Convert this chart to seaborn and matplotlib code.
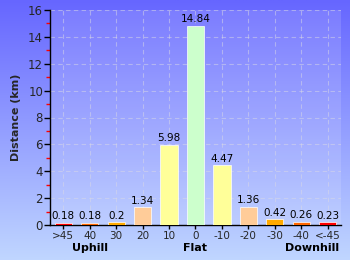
import numpy as np
import pandas as pd
import matplotlib
matplotlib.use("Agg")
import matplotlib.pyplot as plt
import seaborn as sns
from matplotlib.ticker import MultipleLocator

categories = [">45", "40", "30", "20", "10", "0", "-10", "-20", "-30", "-40", "<-45"]
distances = [0.18, 0.18, 0.2, 1.34, 5.98, 14.84, 4.47, 1.36, 0.42, 0.26, 0.23]
value_labels = ["0.18", "0.18", "0.2", "1.34", "5.98", "14.84", "4.47", "1.36", "0.42", "0.26", "0.23"]
bar_colors = ["#ff0000", "#ff6600", "#ffaa00", "#ffcc99", "#ffff99", "#ccffcc",
              "#ffff99", "#ffcc99", "#ffaa00", "#ff6600", "#ff0000"]
group_labels = ["Uphill", "Flat", "Downhill"]

sns.set_style("white")
plt.rcParams['font.family'] = ['DejaVu Sans']

fig = plt.figure(figsize=(3.5, 2.6), dpi=100)

# background gradient
bg = fig.add_axes([0, 0, 1, 1], zorder=-10)
top = np.array([102, 102, 255]) / 255
bot = np.array([192, 214, 255]) / 255
t = np.linspace(0, 1, 256)[:, None]
grad = (top * (1 - t) + bot * t)[:, None, :]
bg.imshow(grad, aspect='auto', extent=[0, 1, 0, 1])
bg.axis('off')

ax = fig.add_axes([50/350, 35/260, 291/350, 215/260])
ax.set_facecolor((1, 1, 1, 0.13))

df = pd.DataFrame({"cat": categories, "dist": distances})
sns.barplot(data=df, x="cat", y="dist", hue="cat", order=categories, hue_order=categories,
            palette=bar_colors, legend=False, width=0.65, edgecolor="white",
            linewidth=0.5, saturation=1, ax=ax, zorder=3)

ax.set_ylim(0, 16)
ax.set_xlim(-0.5, len(categories) - 0.5)
ax.yaxis.set_major_locator(MultipleLocator(2))
ax.yaxis.set_minor_locator(MultipleLocator(1))
ax.grid(True, which='major', color=(0.85, 0.85, 0.9), linestyle=(0, (4, 3)), linewidth=0.8, alpha=0.5, zorder=0)
ax.set_axisbelow(True)

for s in ['top', 'right']:
    ax.spines[s].set_visible(False)
for s in ['left', 'bottom']:
    ax.spines[s].set_color('black')
    ax.spines[s].set_linewidth(1.0)

ax.tick_params(axis='y', which='major', length=4, width=1, color='black', labelsize=8.5, pad=1, left=True, direction='out')
ax.tick_params(axis='y', which='minor', length=3, width=1, color='red', left=True, direction='out')
ax.tick_params(axis='x', which='major', length=3, width=1, color='black', labelsize=7.5, pad=1.5, bottom=True, direction='out')

ax.set_xlabel("")
ax.set_ylabel("Distance (km)", fontsize=8, fontweight='bold', labelpad=5)

for i, (v, lab) in enumerate(zip(distances, value_labels)):
    ax.text(i, v + 0.1, lab, ha='center', va='bottom', fontsize=7.5, color='black', zorder=5)

for xpos, lab in zip([1, 5, 9.4], group_labels):
    ax.text(xpos, -0.108, lab, transform=ax.get_xaxis_transform(), ha='center', va='center',
            fontsize=8, fontweight='bold', color='black')

fig.savefig("out.png", dpi=100)
